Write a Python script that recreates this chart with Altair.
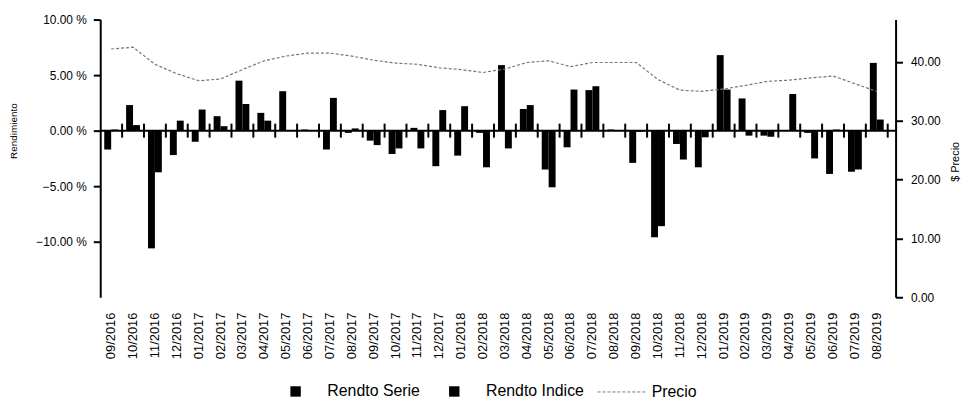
import altair as alt
import pandas as pd

months = [
    "09/2016", "10/2016", "11/2016", "12/2016",
    "01/2017", "02/2017", "03/2017", "04/2017", "05/2017", "06/2017",
    "07/2017", "08/2017", "09/2017", "10/2017", "11/2017", "12/2017",
    "01/2018", "02/2018", "03/2018", "04/2018", "05/2018", "06/2018",
    "07/2018", "08/2018", "09/2018", "10/2018", "11/2018", "12/2018",
    "01/2019", "02/2019", "03/2019", "04/2019", "05/2019", "06/2019",
    "07/2019", "08/2019",
]

rendto_serie = [
    -1.7, 2.3, -10.6, -2.2, -1.0, 1.3, 4.5, 1.6, 3.55, 0.1,
    -1.7, -0.2, -0.9, -2.1, 0.25, -3.2, -2.25, -0.2, 5.9, 1.95,
    -3.5, -1.5, 3.65, 0.1, -2.9, -9.6, -1.2, -3.3, 6.8, 2.9,
    -0.45, 0.05, -0.2, -3.9, -3.7, 6.1,
]

rendto_indice = [
    0.1, 0.5, -3.75, 0.9, 1.9, 0.4, 2.4, 0.9, 0.05, 0.05,
    2.95, 0.2, -1.3, -1.6, -1.6, 1.85, 2.2, -3.3, -1.6, 2.3,
    -5.1, 3.7, 4.0, 0.05, -0.1, -8.6, -2.6, -0.6, 3.7, -0.45,
    -0.55, 3.3, -2.5, 0.1, -3.5, 1.0,
]

precio = [
    42.2, 42.5, 39.6, 38.0, 36.8, 37.1, 38.7, 40.2, 41.0, 41.5,
    41.5, 41.0, 40.3, 39.8, 39.6, 39.0, 38.7, 38.2, 38.8, 39.9,
    40.2, 39.2, 39.9, 39.9, 39.9, 37.0, 35.2, 35.0, 35.4, 36.0,
    36.7, 36.9, 37.3, 37.6, 36.3, 35.0,
]

series_names = ["Rendto Serie", "Rendto Indice"]
price_name = "Precio"

bars_df = pd.DataFrame({
    "mes": months * 2,
    "serie": [series_names[0]] * len(months) + [series_names[1]] * len(months),
    "valor": rendto_serie + rendto_indice,
})
price_df = pd.DataFrame({"mes": months, "precio": precio, "leyenda": price_name})
months_df = pd.DataFrame({"mes": months})
zero_df = pd.DataFrame({"cero": [0.0]})

FONT = "Liberation Sans"

xscale = alt.Scale(paddingInner=0, paddingOuter=0.18, align=0)
xaxis = alt.Axis(
    title=None, labelAngle=-90, labelFont=FONT, labelFontSize=13,
    labelColor="black", ticks=False, domain=False, labelPadding=15,
    labelOverlap=False, grid=False,
)

yscale = alt.Scale(domain=[-15, 10], nice=False)
yaxis = alt.Axis(
    title="Rendimiento", values=[-10, -5, 0, 5, 10],
    labelExpr="format(datum.value, '.2f') + ' %'",
    labelFont=FONT, labelFontSize=12, labelColor="black", labelPadding=7,
    tickSize=7, tickWidth=2, tickColor="black",
    domainColor="black", domainWidth=2, grid=False,
    titleFont=FONT, titleFontSize=10, titleFontWeight="normal", titleColor="black",
    titleAngle=270, titleX=-82, titleY=112, titleBaseline="bottom", titleAlign="center",
)

bars = alt.Chart(bars_df).mark_bar().encode(
    x=alt.X("mes:N", sort=months, scale=xscale, axis=xaxis),
    xOffset=alt.XOffset("serie:N", sort=series_names,
                        scale=alt.Scale(paddingInner=0, paddingOuter=0.58)),
    y=alt.Y("valor:Q", scale=yscale, axis=yaxis),
    color=alt.Color(
        "serie:N", sort=series_names,
        scale=alt.Scale(domain=series_names, range=["#000000", "#000000"]),
        legend=alt.Legend(
            orient="none", legendX=189, legendY=367, direction="horizontal",
            title=None, symbolType="square", symbolSize=110, symbolStrokeWidth=0,
            labelFont=FONT, labelFontSize=16, labelColor="black",
            labelOffset=24, columnPadding=26, padding=0,
        ),
    ),
)

zero_line = alt.Chart(zero_df).mark_rule(color="black", strokeWidth=2).encode(
    y=alt.Y("cero:Q", scale=yscale, axis=yaxis),
)

month_ticks = alt.Chart(months_df).mark_rule(color="black", strokeWidth=2).encode(
    x=alt.X("mes:N", sort=months, bandPosition=1, scale=xscale, axis=xaxis),
    y=alt.YDatum(-0.63, scale=yscale, axis=yaxis),
    y2=alt.Y2Datum(0.63),
)

left = alt.layer(bars, zero_line, month_ticks)

price_line = alt.Chart(price_df).mark_line(strokeWidth=1.2, strokeDash=[3, 2]).encode(
    x=alt.X("mes:N", sort=months, scale=xscale, axis=xaxis),
    y=alt.Y(
        "precio:Q", scale=alt.Scale(domain=[0, 47.2], nice=False),
        axis=alt.Axis(
            orient="right", title="$ Precio", values=[0, 10, 20, 30, 40], format=".2f",
            labelFont=FONT, labelFontSize=12, labelColor="black", labelPadding=8,
            tickSize=7, tickWidth=2, tickColor="black",
            domainColor="black", domainWidth=2, grid=False,
            titleFont=FONT, titleFontSize=11, titleFontWeight="normal", titleColor="black",
            titleAngle=270, titleX=65, titleY=143, titleBaseline="bottom", titleAlign="center",
        ),
    ),
    stroke=alt.Stroke(
        "leyenda:N", scale=alt.Scale(domain=[price_name], range=["#777777"]),
        legend=alt.Legend(
            orient="none", legendX=501, legendY=350, title=None,
            symbolType="stroke", symbolSize=2500, symbolStrokeWidth=1,
            symbolDash=[3, 2], labelFont=FONT, labelFontSize=16, labelColor="black",
            labelOffset=4, padding=0,
        ),
    ),
)

chart = alt.layer(left, price_line).resolve_scale(y="independent").properties(
    width=802, height=280,
    padding={"left": 93, "top": 10, "right": 71, "bottom": 109},
    autosize=alt.AutoSizeParams(type="none"),
    background="white",
).configure_view(stroke=None)

chart.save("out.html", embed_options={"renderer": "svg", "actions": False})
